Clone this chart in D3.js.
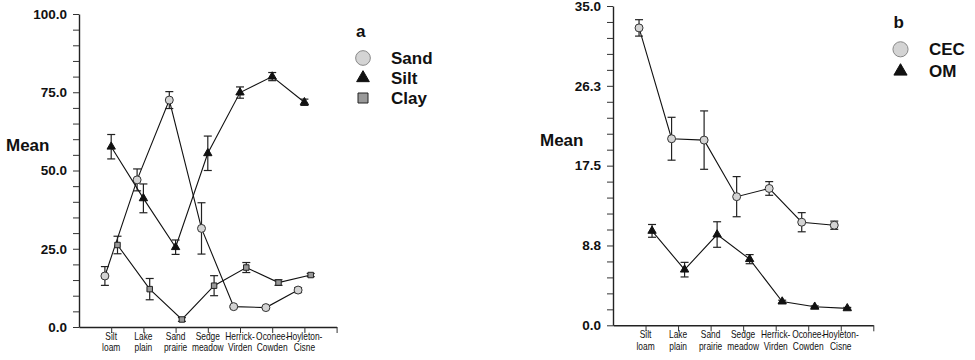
<!DOCTYPE html>
<html>
<head>
<meta charset="utf-8">
<script src="https://cdn.jsdelivr.net/npm/d3@7"></script>
<style>
  body { margin: 0; background: #fff; }
  svg { display: block; font-family: "Liberation Sans", Arial, sans-serif; }
  .tick text.ylab { font-weight: bold; font-size: 13.5px; }
  .xlab { font-size: 10.5px; }
</style>
</head>
<body>
<div id="chart"></div>
<script>
const categories = ["Silt loam", "Lake plain", "Sand prairie", "Sedge meadow", "Herrick-Virden", "Oconee-Cowden", "Hoyleton-Cisne"];

// panel a: particle size (%)
const sandMean = [16.3, 47.0, 72.5, 31.5, 6.5, 6.2, 11.8];
const sandErr  = [3.0, 3.5, 2.7, 8.2, 0.3, 0.3, 0.8];
const siltMean = [57.6, 41.1, 25.5, 55.5, 74.9, 80.0, 71.8];
const siltErr  = [3.9, 4.6, 2.3, 5.5, 1.8, 1.3, 1.0];
const clayMean = [26.2, 12.1, 2.4, 13.2, 19.0, 14.2, 16.6];
const clayErr  = [2.8, 3.4, 0.6, 3.2, 1.6, 0.9, 0.5];
const leftTickLabels = ["0.0", "25.0", "50.0", "75.0", "100.0"];

// panel b: CEC and organic matter
const cecMean = [32.6, 20.45, 20.3, 14.1, 15.0, 11.3, 10.97];
const cecErr  = [0.9, 2.35, 3.2, 2.2, 0.75, 1.05, 0.45];
const omMean  = [10.35, 6.1, 9.95, 7.25, 2.6, 2.03, 1.86];
const omErr   = [0.7, 0.8, 1.4, 0.5, 0.15, 0.1, 0.1];
const rightTickLabels = ["0.0", "8.8", "17.5", "26.3", "35.0"];

const svg = d3.select("#chart").append("svg")
  .attr("width", 975).attr("height", 360);

const markStyle = {
  circle:   { type: d3.symbolCircle,   fill: "#d4d4d4", stroke: "#333" },
  triangle: { type: d3.symbolTriangle, fill: "#111",    stroke: "#111" },
  square:   { type: d3.symbolSquare,   fill: "#999",    stroke: "#222" }
};

function drawPanel(p) {
  const g = svg.append("g");
  const x = d3.scaleLinear().domain([-1, 7]).range([p.x0, p.x1]);
  const y = d3.scaleLinear().domain([0, p.yMax]).range([p.yBottom, p.yTop]);

  // y axis: minor ticks, every fifth labelled
  const yTicks = d3.range(0, 21).map(i => i * p.yMax / 20);
  g.append("g")
    .attr("transform", `translate(${p.x0},0)`)
    .call(d3.axisLeft(y).tickValues(yTicks).tickSize(6).tickSizeOuter(0).tickPadding(6)
      .tickFormat((d, i) => i % 5 === 0 ? p.tickLabels[i / 5] : ""))
    .call(a => a.select(".domain").attr("stroke", "#222").attr("stroke-width", 1.4))
    .call(a => a.selectAll(".tick line").attr("stroke", "#333"))
    .call(a => a.selectAll(".tick text").attr("class", "ylab").attr("fill", "#111"));

  // x axis
  g.append("g")
    .attr("transform", `translate(0,${p.yBottom})`)
    .call(d3.axisBottom(x).tickValues(d3.range(0, 8)).tickSize(6).tickSizeOuter(0).tickFormat(""))
    .call(a => a.select(".domain").attr("stroke", "#222").attr("stroke-width", 1.4))
    .call(a => a.selectAll(".tick line").attr("stroke", "#333"));

  // category labels, squeezed horizontally like a narrow face
  categories.forEach((c, i) => {
    const lines = c.split(/(?<=-)|\s/);
    const t = g.append("text").attr("class", "xlab")
      .attr("text-anchor", "middle").attr("fill", "#111")
      .attr("transform", `translate(${x(i)},${p.yBottom + 13}) scale(0.8,1)`);
    lines.forEach((l, j) => t.append("tspan").attr("x", 0).attr("dy", j ? 11.5 : 0).text(l));
  });

  g.append("text").attr("x", p.meanX).attr("y", p.meanY)
    .attr("font-weight", "bold").attr("font-size", 17).attr("fill", "#111").text("Mean");

  // series
  p.series.forEach(s => {
    const px = (d, i) => x(i) + s.dx;
    const st = markStyle[s.mark];
    g.append("path")
      .datum(s.mean)
      .attr("fill", "none").attr("stroke", "#111").attr("stroke-width", 1.1)
      .attr("d", d3.line().x(px).y(d => y(d)));

    const eb = g.append("g").selectAll("g").data(s.mean).join("g")
      .attr("stroke", "#222").attr("stroke-width", 1.2);
    eb.append("line")
      .attr("x1", px).attr("x2", px)
      .attr("y1", (d, i) => y(d - s.err[i])).attr("y2", (d, i) => y(d + s.err[i]));
    [-1, 1].forEach(sg => eb.append("line")
      .attr("x1", (d, i) => px(d, i) - 4).attr("x2", (d, i) => px(d, i) + 4)
      .attr("y1", (d, i) => y(d + sg * s.err[i])).attr("y2", (d, i) => y(d + sg * s.err[i])));

    g.append("g").selectAll("path").data(s.mean).join("path")
      .attr("transform", (d, i) => `translate(${px(d, i)},${y(d)})`)
      .attr("d", d3.symbol().type(st.type).size(s.size))
      .attr("fill", st.fill).attr("stroke", st.stroke).attr("stroke-width", 1);
  });

  // legend
  g.append("text").attr("x", p.legX - 7).attr("y", p.legY - 21)
    .attr("font-weight", "bold").attr("font-size", 17).attr("fill", "#111").text(p.letter);
  p.series.forEach((s, i) => {
    const st = markStyle[s.mark];
    const cy = p.legY + i * p.legStep;
    g.append("path")
      .attr("transform", `translate(${p.legX},${cy})`)
      .attr("d", d3.symbol().type(st.type).size(s.legSize))
      .attr("fill", st.fill).attr("stroke", s.mark === "circle" ? "#888" : st.stroke);
    g.append("text").attr("x", p.legTextX).attr("y", cy + 5.5)
      .attr("font-weight", "bold").attr("font-size", 17).attr("fill", "#111").text(s.name);
  });
}

drawPanel({
  x0: 79, x1: 336.6, yTop: 14, yBottom: 327, yMax: 100,
  tickLabels: leftTickLabels, meanX: 6, meanY: 150.5,
  letter: "a", legX: 363, legY: 58, legStep: 20, legTextX: 391,
  series: [
    { name: "Sand", mean: sandMean, err: sandErr, mark: "circle",   dx: -6.3, size: 50, legSize: 170 },
    { name: "Silt", mean: siltMean, err: siltErr, mark: "triangle", dx: 0,    size: 30, legSize: 70 },
    { name: "Clay", mean: clayMean, err: clayErr, mark: "square",   dx: 6.3,  size: 30, legSize: 100 }
  ]
});

drawPanel({
  x0: 613, x1: 873.3, yTop: 6, yBottom: 325.3, yMax: 35,
  tickLabels: rightTickLabels, meanX: 540, meanY: 146,
  letter: "b", legX: 900.5, legY: 49.3, legStep: 22, legTextX: 929,
  series: [
    { name: "CEC", mean: cecMean, err: cecErr, mark: "circle",   dx: -6.5, size: 50, legSize: 180 },
    { name: "OM",  mean: omMean,  err: omErr,  mark: "triangle", dx: 6.5,  size: 30, legSize: 75 }
  ]
});
</script>
</body>
</html>
